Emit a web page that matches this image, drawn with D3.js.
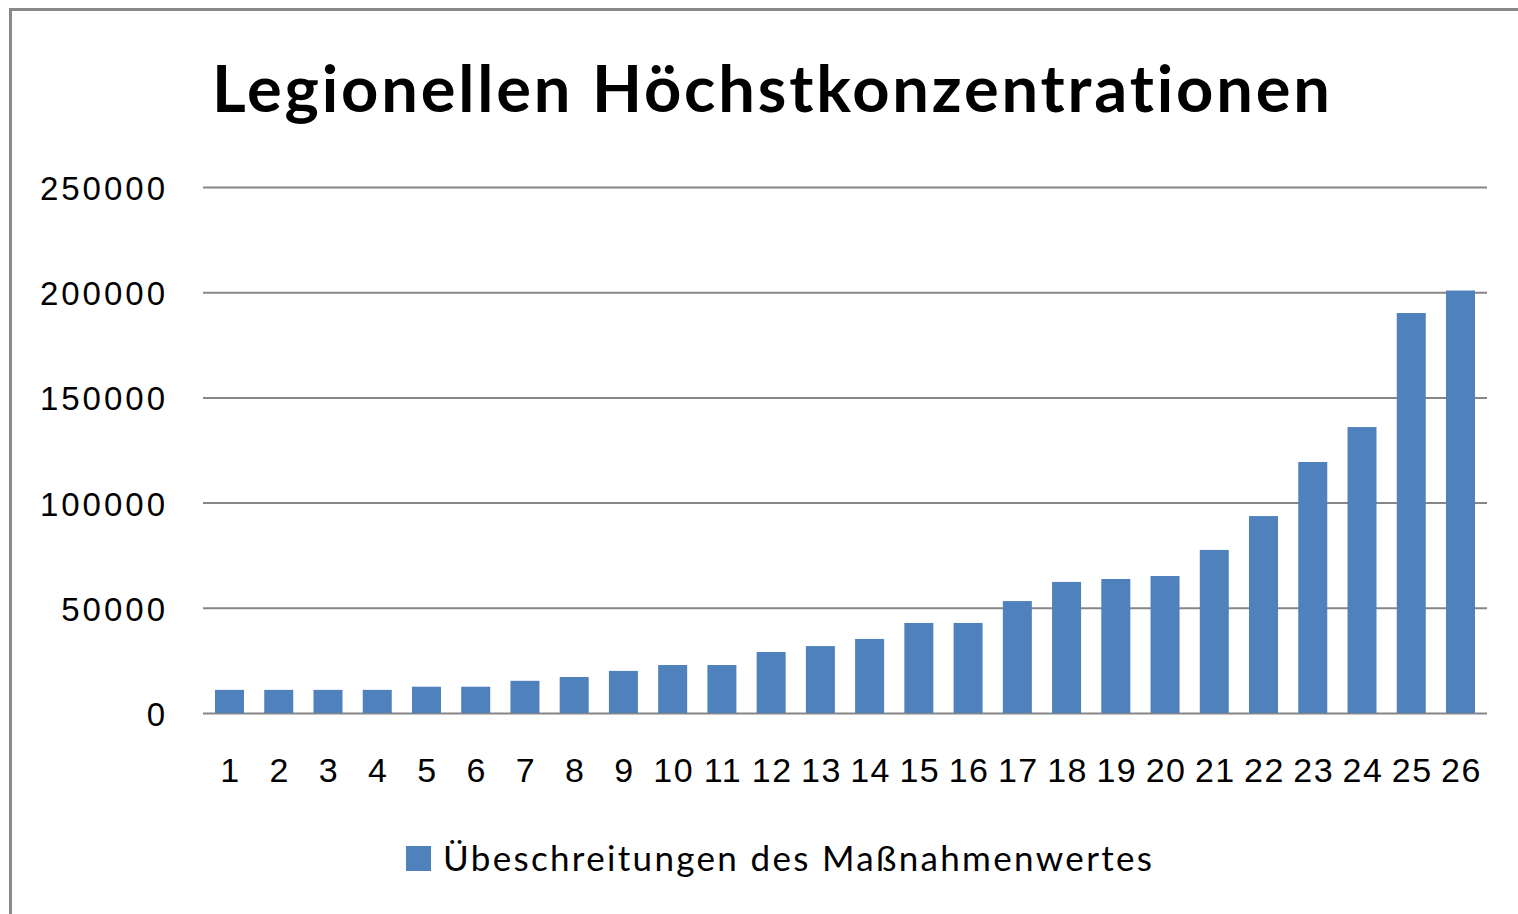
<!DOCTYPE html>
<html>
<head>
<meta charset="utf-8">
<script src="https://cdn.jsdelivr.net/npm/d3@7"></script>
<style>
  body { margin: 0; background: #fff; }
  svg { display: block; font-family: Lato, "Open Sans", sans-serif; font-variant-ligatures: none; }
  .grid line { stroke: #868686; stroke-width: 2; }
  .grid text { fill: #000; font-size: 33px; letter-spacing: 3px; }
  .xaxis text { fill: #000; font-size: 34px; letter-spacing: 1.5px; }
</style>
</head>
<body>
<svg width="1518" height="914"></svg>
<script>
// data
var categories = ["1","2","3","4","5","6","7","8","9","10","11","12","13",
                  "14","15","16","17","18","19","20","21","22","23","24","25","26"];
var values = [11000, 11000, 11000, 11000, 12500, 12500, 15300, 17100, 20000, 22800,
              22800, 29000, 31800, 35200, 42800, 42800, 53200, 62300, 63700, 65100,
              77500, 93600, 119300, 135900, 190100, 200800];
var yTicks = [0, 50000, 100000, 150000, 200000, 250000];
var title = "Legionellen Höchstkonzentrationen";
var seriesName = "Übeschreitungen des Maßnahmenwertes";

var svg = d3.select("svg");
var color = "#4F81BD";

var plotLeft = 203, plotRight = 1487, plotTop = 187, plotBottom = 713;

// chart border
svg.append("rect")
    .attr("x", 10.5).attr("y", 9.5)
    .attr("width", 1600).attr("height", 1000)
    .attr("fill", "none")
    .attr("stroke", "#898989")
    .attr("stroke-width", 3);

// title
svg.append("text")
    .attr("x", 212)
    .attr("y", 112)
    .attr("textLength", 1118)
    .attr("lengthAdjust", "spacing")
    .style("font-size", "65px")
    .style("font-weight", "bold")
    .attr("fill", "#000")
    .text(title);

var x = d3.scaleBand()
    .domain(categories)
    .range([plotLeft, plotRight])
    .paddingInner(0.411)
    .paddingOuter(0.244);

var y = d3.scaleLinear()
    .domain([0, 250000])
    .range([plotBottom, plotTop]);

// gridlines + y labels
var yAxis = d3.axisLeft(y)
    .tickValues(yTicks)
    .tickSize(-(plotRight - plotLeft))
    .tickPadding(38)
    .tickFormat(d3.format("d"));

var gy = svg.append("g")
    .attr("class", "grid")
    .attr("transform", "translate(" + plotLeft + ",0)")
    .call(yAxis);
gy.select(".domain").remove();
gy.selectAll("text").attr("x", -35).attr("dy", "0.38em");

// bars
svg.selectAll(".bar")
    .data(values)
    .enter()
    .append("rect")
    .attr("class", "bar")
    .attr("x", function(d, i) { return x(categories[i]); })
    .attr("width", x.bandwidth())
    .attr("y", function(d) { return y(d); })
    .attr("height", function(d) { return plotBottom - y(d); })
    .attr("fill", color);

// x labels
var gx = svg.append("g")
    .attr("class", "xaxis")
    .attr("transform", "translate(0," + plotBottom + ")")
    .call(d3.axisBottom(x).tickSize(0));
gx.select(".domain").remove();
gx.selectAll("text").attr("y", 57).attr("dy", "0.36em").attr("dx", "1px");

// legend
svg.append("rect")
    .attr("x", 406).attr("y", 846)
    .attr("width", 25).attr("height", 25)
    .attr("fill", color);

svg.append("text")
    .attr("x", 443)
    .attr("y", 871)
    .attr("textLength", 709)
    .attr("lengthAdjust", "spacing")
    .style("font-size", "35px")
    .attr("fill", "#000")
    .text(seriesName);
</script>
</body>
</html>
